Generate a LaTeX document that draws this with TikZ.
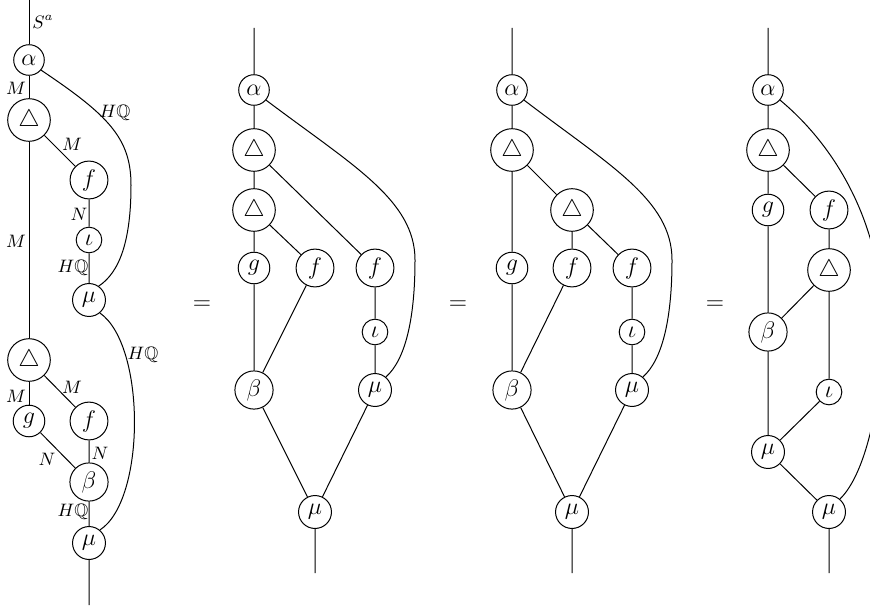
\documentclass[tikz,border=0pt]{standalone}
\usepackage{amssymb}
\begin{document}
\begin{tikzpicture}[x=0.5pt,y=-0.5pt,
  bead/.style={circle, draw, line width=0.5pt, inner sep=2.2pt, font=\large, fill=white},
  lbl/.style={font=\small, inner sep=0pt},
  wire/.style={line width=0.5pt},
  eqsign/.style={font=\large, inner sep=0pt}]
\useasboundingbox (0,0) rectangle (870,610);

% ---------- panel 1 ----------
\coordinate (a-top) at (29,0);
\node[bead] (a-al) at (29,60) {$\alpha$};
\node[bead] (a-d1) at (29,120) {$\triangle$};
\node[bead] (a-f1) at (89,180) {$f$};
\node[bead] (a-io) at (89,240) {$\iota$};
\node[bead] (a-mu1) at (89,300) {$\mu$};
\node[bead] (a-d2) at (29,360) {$\triangle$};
\node[bead] (a-g) at (29,421) {$g$};
\node[bead] (a-f2) at (89,421) {$f$};
\node[bead] (a-be) at (89,482) {$\beta$};
\node[bead] (a-mu2) at (89,543) {$\mu$};
\coordinate (a-bot) at (89,605);
\coordinate (a-c1) at (131,185);

\draw[wire] (a-top) -- (a-al) -- (a-d1) -- (a-d2) -- (a-g);
\draw[wire] (a-d1) -- (a-f1) -- (a-io) -- (a-mu1);
\draw[wire] (a-d2) -- (a-f2) -- (a-be) -- (a-mu2) -- (a-bot);
\draw[wire] (a-g) -- (a-be);
\draw[wire] (a-al.-40) .. controls (108,115) and (131,138) .. (a-c1)
  .. controls (131,240) and (120,272) .. (a-mu1.55);
\draw[wire] (a-mu1.-50) .. controls (146,345) and (146,500) .. (a-mu2.50);

\node[lbl, anchor=west] (l1) at (32,22) {$S^a$};
\node[lbl] (l2) at (16,88) {$M$};
\node[lbl] (l3) at (115,113) {$H\mathbb{Q}$};
\node[lbl] (l4) at (72,144) {$M$};
\node[lbl] (l5) at (79,214) {$N$};
\node[lbl] (l6) at (16,241) {$M$};
\node[lbl] (l7) at (73,268) {$H\mathbb{Q}$};
\node[lbl] (l8) at (143,355) {$H\mathbb{Q}$};
\node[lbl] (l9) at (72,387) {$M$};
\node[lbl] (l10) at (16,396) {$M$};
\node[lbl] (l11) at (47,459) {$N$};
\node[lbl] (l12) at (100,453) {$N$};
\node[lbl] (l13) at (73,512) {$H\mathbb{Q}$};

\node[eqsign] (eq1) at (202,305) {$=$};

% ---------- panel 2 ----------
\coordinate (b-top) at (254,28);
\node[bead] (b-al) at (254,90) {$\alpha$};
\node[bead] (b-d1) at (254,150) {$\triangle$};
\node[bead] (b-d2) at (254,210) {$\triangle$};
\node[bead] (b-g) at (254,268) {$g$};
\node[bead] (b-f1) at (315,268) {$f$};
\node[bead] (b-f2) at (375,268) {$f$};
\node[bead] (b-io) at (375,332) {$\iota$};
\node[bead] (b-mu) at (375,390) {$\mu$};
\node[bead] (b-be) at (254,390) {$\beta$};
\node[bead] (b-mub) at (315,512) {$\mu$};
\coordinate (b-bot) at (315,573);
\coordinate (b-c1) at (415,260);

\draw[wire] (b-top) -- (b-al) -- (b-d1) -- (b-d2) -- (b-g) -- (b-be) -- (b-mub) -- (b-bot);
\draw[wire] (b-d1) -- (b-f2) -- (b-io) -- (b-mu) -- (b-mub);
\draw[wire] (b-d2) -- (b-f1) -- (b-be);
\draw[wire] (b-al.-40) .. controls (352,165) and (415,200) .. (b-c1)
  .. controls (415,320) and (405,360) .. (b-mu.50);

\node[eqsign] (eq2) at (458,305) {$=$};

% ---------- panel 3 ----------
\coordinate (c-top) at (512,28);
\node[bead] (c-al) at (512,90) {$\alpha$};
\node[bead] (c-d1) at (512,150) {$\triangle$};
\node[bead] (c-d2) at (572,210) {$\triangle$};
\node[bead] (c-g) at (512,268) {$g$};
\node[bead] (c-f1) at (572,268) {$f$};
\node[bead] (c-f2) at (632,268) {$f$};
\node[bead] (c-io) at (632,332) {$\iota$};
\node[bead] (c-mu) at (632,390) {$\mu$};
\node[bead] (c-be) at (512,390) {$\beta$};
\node[bead] (c-mub) at (572,512) {$\mu$};
\coordinate (c-bot) at (572,573);
\coordinate (c-c1) at (672,260);

\draw[wire] (c-top) -- (c-al) -- (c-d1) -- (c-g) -- (c-be) -- (c-mub) -- (c-bot);
\draw[wire] (c-d1) -- (c-d2) -- (c-f1) -- (c-be);
\draw[wire] (c-d2) -- (c-f2) -- (c-io) -- (c-mu) -- (c-mub);
\draw[wire] (c-al.-40) .. controls (609,165) and (672,200) .. (c-c1)
  .. controls (672,320) and (662,360) .. (c-mu.50);

\node[eqsign] (eq3) at (715,305) {$=$};

% ---------- panel 4 ----------
\coordinate (d-top) at (768,28);
\node[bead] (d-al) at (768,90) {$\alpha$};
\node[bead] (d-d1) at (768,150) {$\triangle$};
\node[bead] (d-g) at (768,210) {$g$};
\node[bead] (d-f) at (829,210) {$f$};
\node[bead] (d-d2) at (829,270) {$\triangle$};
\node[bead] (d-be) at (768,332) {$\beta$};
\node[bead] (d-io) at (829,392) {$\iota$};
\node[bead] (d-mu1) at (768,452) {$\mu$};
\node[bead] (d-mu2) at (829,512) {$\mu$};
\coordinate (d-bot) at (829,573);
\coordinate (d-c1) at (882,320);

\draw[wire] (d-top) -- (d-al) -- (d-d1) -- (d-g) -- (d-be) -- (d-mu1) -- (d-mu2) -- (d-bot);
\draw[wire] (d-d1) -- (d-f) -- (d-d2) -- (d-io) -- (d-mu1);
\draw[wire] (d-d2) -- (d-be);
\draw[wire] (d-al.-40) .. controls (840,150) and (882,230) .. (d-c1)
  .. controls (882,420) and (860,480) .. (d-mu2.50);
\end{tikzpicture}
\end{document}
